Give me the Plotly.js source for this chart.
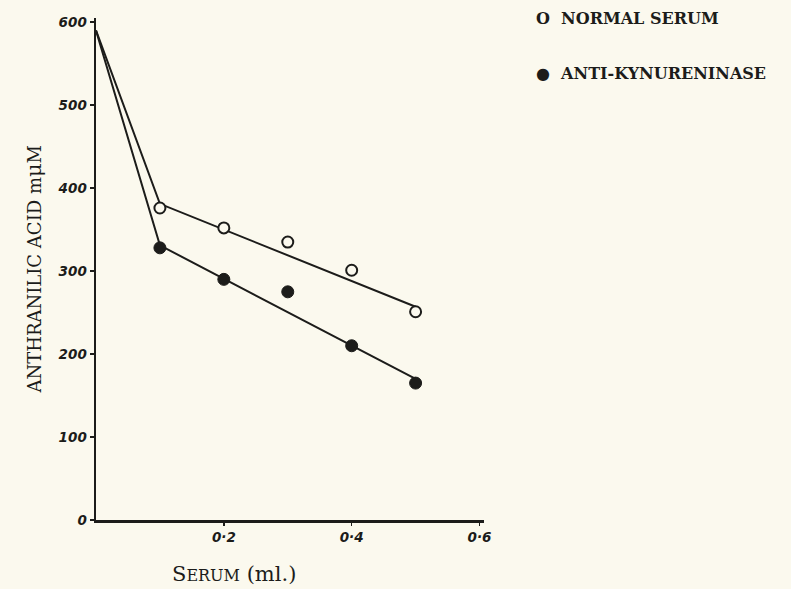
<!DOCTYPE html>
<html>
<head>
<meta charset="utf-8">
<script src="https://cdn.plot.ly/plotly-3.0.1.min.js"></script>
<style>html,body{margin:0;padding:0;background:#fbf9ee;}</style>
</head>
<body>
<div id="chart" style="width:791px;height:589px;"></div>
<script>
// Data
const serumMl = [0.1, 0.2, 0.3, 0.4, 0.5];
const normalSerum = [376, 352, 335, 301, 251];
const antiKynureninase = [328, 290, 275, 210, 165];
// Drawn fit lines
const fitX = [0, 0.1, 0.5];
const normalFit = [590, 381, 257];
const antiFit = [590, 331, 170];
// Ticks
const xTickVals = [0.2, 0.4, 0.6];
const xTickText = ['0·2', '0·4', '0·6'];
const yTickVals = [0, 100, 200, 300, 400, 500, 600];
const yTickText = ['0', '100', '200', '300', '400', '500', '600'];

const ink = '#1c1c1a';
const traces = [
  {x: fitX, y: normalFit, mode: 'lines', line: {color: ink, width: 2}, hoverinfo: 'skip'},
  {x: fitX, y: antiFit, mode: 'lines', line: {color: ink, width: 2}, hoverinfo: 'skip'},
  {x: serumMl, y: normalSerum, mode: 'markers', name: 'NORMAL SERUM',
   marker: {symbol: 'circle', size: 11, color: '#fbf9ee', line: {color: ink, width: 2}}},
  {x: serumMl, y: antiKynureninase, mode: 'markers', name: 'ANTI-KYNURENINASE',
   marker: {symbol: 'circle', size: 12, color: ink, line: {color: ink, width: 1}}}
];

const tickFont = {family: 'DejaVu Sans', size: 13.5, color: ink, style: 'italic', weight: 'bold'};
const layout = {
  width: 791, height: 589,
  paper_bgcolor: '#fbf9ee', plot_bgcolor: '#fbf9ee',
  margin: {l: 96, r: 307, t: 18, b: 69},
  showlegend: false,
  xaxis: {
    range: [0, 0.607], showgrid: false, zeroline: false,
    showline: true, linecolor: ink, linewidth: 2.5,
    ticks: 'outside', ticklen: 3, tickwidth: 1.5, tickcolor: ink,
    tickvals: xTickVals, ticktext: xTickText, tickfont: tickFont
  },
  yaxis: {
    range: [0, 605], showgrid: false, zeroline: false,
    showline: true, linecolor: ink, linewidth: 2.5,
    ticks: 'outside', ticklen: 4, tickwidth: 1.5, tickcolor: ink,
    tickvals: yTickVals, ticktext: yTickText, tickfont: tickFont
  },
  annotations: [
    {xref: 'paper', yref: 'paper', x: -0.197, y: 0.5, textangle: -90,
     text: 'ANTHRANILIC ACID m<span style="font-size:21px">μ</span>M', showarrow: false,
     font: {family: 'DejaVu Serif', size: 18, color: ink}},
    {xref: 'paper', yref: 'paper', x: 0.355, y: -0.08, yanchor: 'top', xanchor: 'center',
     text: 'S<span style="font-size:16px">ERUM</span> (ml.)', showarrow: false,
     font: {family: 'DejaVu Serif', size: 21, color: ink}},
    {xref: 'paper', yref: 'paper', x: 1.13, y: 1.0, xanchor: 'left', yanchor: 'middle',
     text: 'O&#160;&#160;NORMAL SERUM', showarrow: false,
     font: {family: 'DejaVu Serif', size: 16, color: ink, weight: 'bold'}},
    {xref: 'paper', yref: 'paper', x: 1.13, y: 0.89, xanchor: 'left', yanchor: 'middle',
     text: '●&#160;&#160;ANTI-KYNURENINASE', showarrow: false,
     font: {family: 'DejaVu Serif', size: 16, color: ink, weight: 'bold'}}
  ]
};
Plotly.newPlot('chart', traces, layout, {displayModeBar: false, staticPlot: true});
</script>
</body>
</html>
